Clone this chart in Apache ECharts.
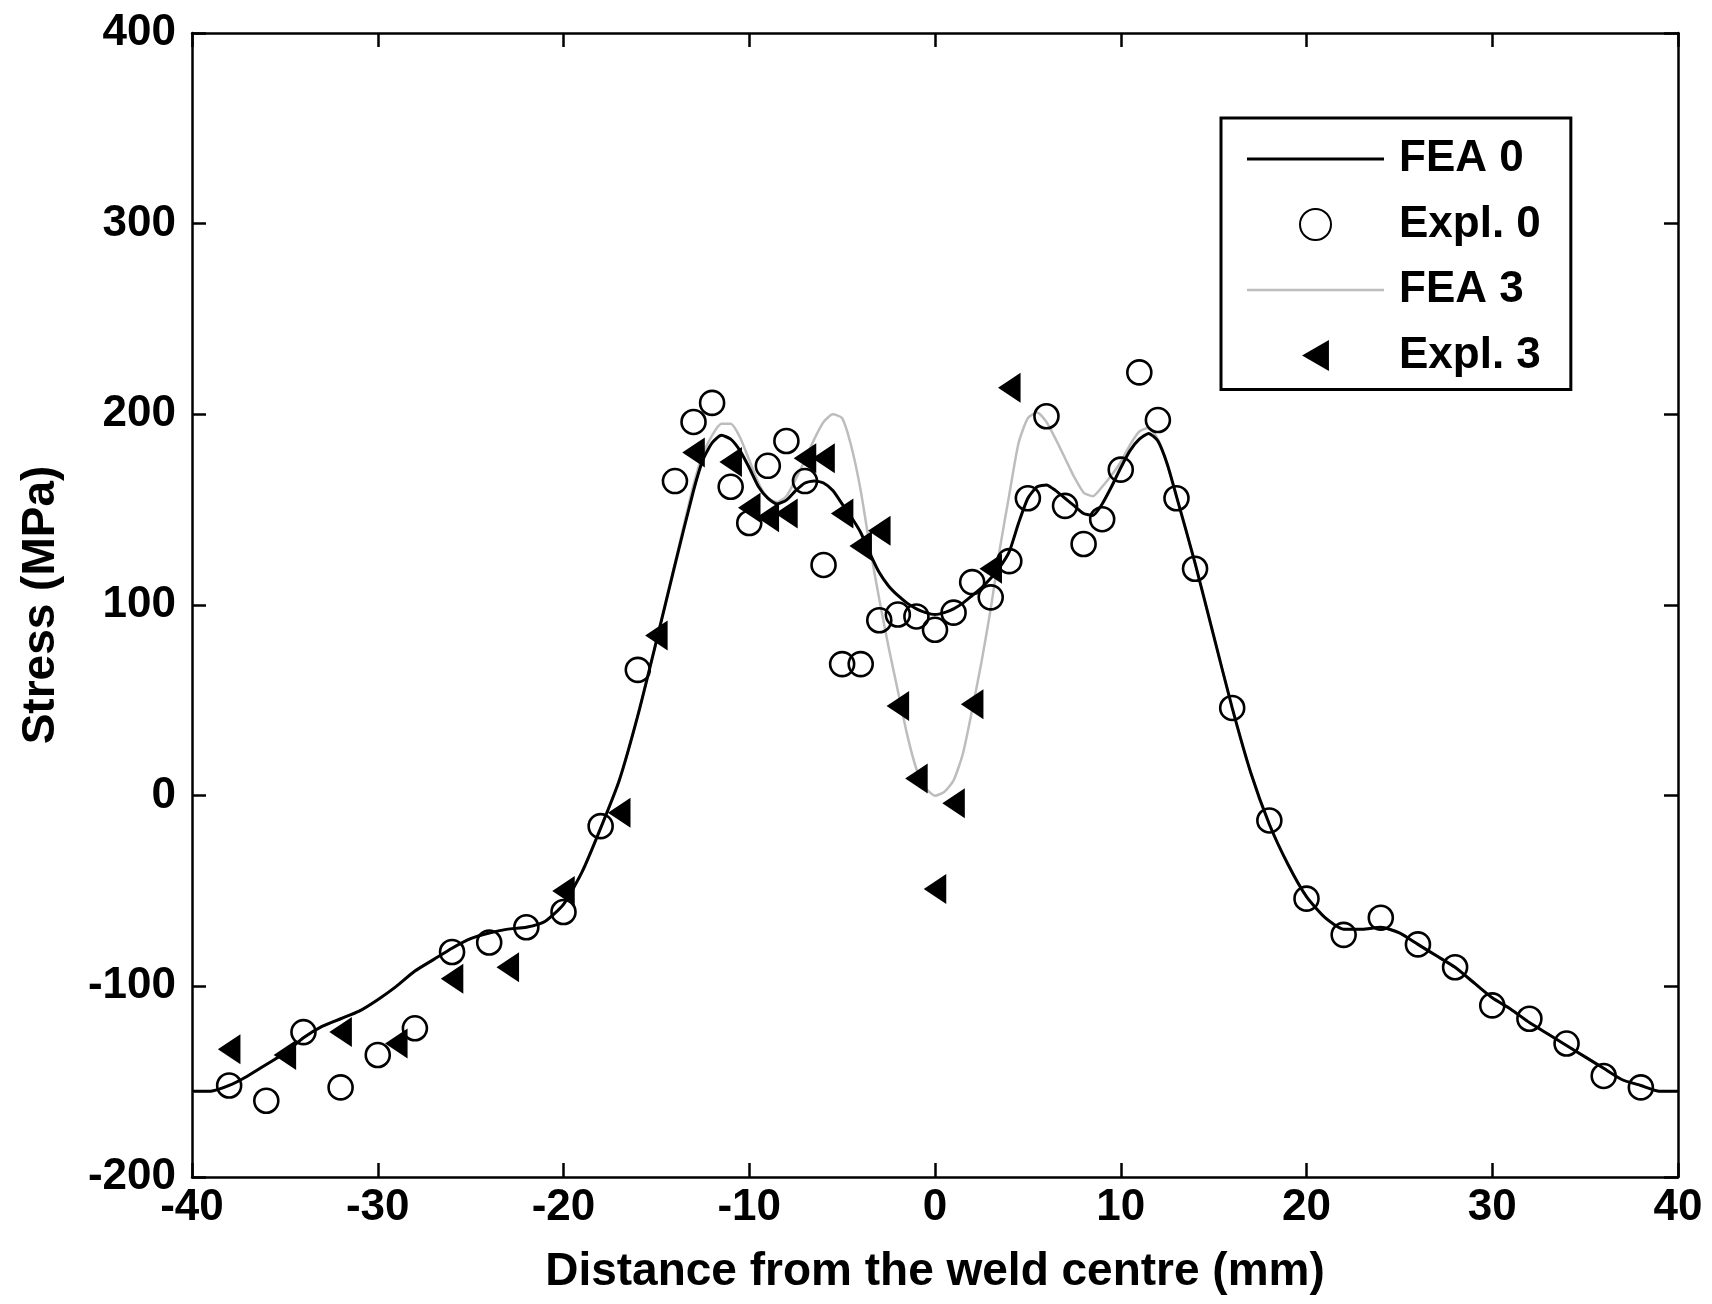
<!DOCTYPE html>
<html>
<head>
<meta charset="utf-8">
<script src="https://cdn.jsdelivr.net/npm/echarts@6/dist/echarts.min.js"></script>
<style>
  html, body { margin: 0; padding: 0; background: #ffffff; }
  #chart { width: 1712px; height: 1304px; }
</style>
</head>
<body>
<div id="chart"></div>
<script>
// ---- data ----
const xTicks = { min: -40, max: 40, interval: 10 };
const yTicks = { min: -200, max: 400, interval: 100 };

const feaX = [-40,-39,-38,-37,-36,-35,-34,-33,-32,-31,-30,-29,-28,-27,-26,-25,-24,-23,-22,-21,-20,-19,-18,-17,-16,-15,-14,-13,
  -12.5,-12,-11.5,-11,-10.5,-10,-9.5,-9,-8.5,-8,-7.5,-7,-6.5,-6,-5.5,-5,-4.5,-4,-3.5,-3,-2.5,-2,-1.5,-1,-0.5,0,
  0.5,1,1.5,2,2.5,3,3.5,4,4.5,5,5.5,6,6.5,7,7.5,8,8.5,9,9.5,10,10.5,11,11.5,12,12.5,
  13,14,15,16,17,18,19,20,21,22,23,24,25,26,27,28,29,30,31,32,33,34,35,36,37,38,39,40];

const fea0Y = [-155,-155,-152,-147,-141,-135,-127,-121,-117,-113,-107,-100,-92,-86,-80,-75,-72,-70,-69,-66,-57,-40,-17,8,42,81,121,160,
  176,185,189,187,181,172,162,156,153,155,160,164,165,164,160,153,146,138,127,117,110,105,101,98,96,95,
  96,98,101,105,109,114,120,128,143,156,162,163,160,156,152,148,147,153,162,172,181,187,190,186,174,
  157,122,84,46,12,-15,-36,-53,-64,-70,-70,-69,-72,-78,-84,-90,-98,-106,-112,-119,-125,-131,-137,-143,-149,-152,-155,-155];

const fea3Y = [-155,-155,-152,-147,-141,-135,-127,-121,-117,-113,-107,-100,-92,-86,-80,-75,-72,-70,-69,-66,-57,-40,-17,8,42,81,122,163,
  179,189,195,195,188,176,164,156,154,157,166,176,187,196,200,198,183,160,130,103,78,55,32,14,4,0,
  2,8,22,45,70,98,130,158,185,198,201,196,187,177,167,159,157,162,168,175,184,191,193,187,174,
  157,122,84,46,12,-15,-36,-53,-64,-70,-70,-69,-72,-78,-84,-90,-98,-106,-112,-119,-125,-131,-137,-143,-149,-152,-155,-155];

const expl0X = [-38,-36,-34,-32,-30,-28,-26,-24,-22,-20,-18,-16,-14,-13,-12,-11,-10,-9,-8,-7,-6,-5,-4,-3,-2,-1,0,1,2,3,4,5,6,7,8,9,10,11,12,13,14,16,18,20,22,24,26,28,30,32,34,36,38];
const expl0Y = [-152,-160,-124,-153,-136,-122,-82,-77,-69,-61,-16,66,165,196,206,162,143,173,186,165,121,69,69,92,95,94,87,96,112,104,123,156,199,152,132,145,171,222,197,156,119,46,-13,-54,-73,-64,-78,-90,-110,-117,-130,-147,-153];

const expl3X = [-38,-35,-32,-29,-26,-23,-20,-17,-15,-13,-11,-10,-9,-8,-7,-6,-5,-4,-3,-2,-1,0,1,2,3,4];
const expl3Y = [-133,-136,-124,-130,-96,-90,-50,-9,84,180,175,151,146,148,177,177,148,131,139,47,9,-49,-4,48,119,214];

const seriesNames = ['FEA 0', 'Expl. 0', 'FEA 3', 'Expl. 3'];
const xTitle = 'Distance from the weld centre (mm)';
const yTitle = 'Stress (MPa)';

// ---- chart ----
const pair = (xs, ys) => xs.map((x, i) => [x, ys[i]]);
const FONT = '"Liberation Sans", Arial, Helvetica, sans-serif';
const TRI_LEFT = 'path://M0,15L26,0L26,30Z';
const LINE_ICON_BLACK = 'path://M0,0H137V3H0Z';
const LINE_ICON_GREY = 'path://M0,0H137V2.5H0Z';

const chart = echarts.init(document.getElementById('chart'), null, { renderer: 'canvas' });

const baseAxis = {
  axisLine: { show: true, onZero: false, lineStyle: { color: '#000', width: 2.5 } },
  axisTick: { show: true, inside: true, length: 14, lineStyle: { color: '#000', width: 2.5 } },
  splitLine: { show: false }
};

chart.setOption({
  animation: false,
  backgroundColor: '#ffffff',
  grid: { left: 192, top: 33, width: 1486, height: 1144, containLabel: false },
  xAxis: [
    Object.assign({}, baseAxis, {
      type: 'value', position: 'bottom', min: xTicks.min, max: xTicks.max, interval: xTicks.interval,
      name: xTitle, nameLocation: 'middle', nameGap: 72,
      nameTextStyle: { fontFamily: FONT, fontWeight: 'bold', fontSize: 46, color: '#000' },
      axisLabel: { show: true, margin: 9, fontFamily: FONT, fontWeight: 'bold', fontSize: 44, color: '#000' }
    }),
    Object.assign({}, baseAxis, {
      type: 'value', position: 'top', min: xTicks.min, max: xTicks.max, interval: xTicks.interval,
      axisLabel: { show: false }
    })
  ],
  yAxis: [
    Object.assign({}, baseAxis, {
      type: 'value', position: 'left', min: yTicks.min, max: yTicks.max, interval: yTicks.interval,
      name: yTitle, nameLocation: 'middle', nameGap: 128, nameRotate: 90,
      nameTextStyle: { fontFamily: FONT, fontWeight: 'bold', fontSize: 46, color: '#000' },
      axisLabel: { show: true, margin: 16, fontFamily: FONT, fontWeight: 'bold', fontSize: 44, color: '#000' }
    }),
    Object.assign({}, baseAxis, {
      type: 'value', position: 'right', min: yTicks.min, max: yTicks.max, interval: yTicks.interval,
      axisLabel: { show: false }
    })
  ],
  legend: {
    data: [
      { name: seriesNames[0], icon: LINE_ICON_BLACK },
      { name: seriesNames[1] },
      { name: seriesNames[2], icon: LINE_ICON_GREY },
      { name: seriesNames[3], icon: TRI_LEFT }
    ],
    orient: 'vertical',
    left: 1221, top: 118,
    padding: [19, 30, 12, 26],
    itemGap: 21.5,
    itemWidth: 137,
    itemHeight: 31,
    symbolKeepAspect: true,
    borderColor: '#000', borderWidth: 3, backgroundColor: '#fff',
    textStyle: { fontFamily: FONT, fontWeight: 'bold', fontSize: 44, color: '#000', padding: [0, 0, 0, 10] }
  },
  series: [
    {
      name: seriesNames[2], type: 'line', data: pair(feaX, fea3Y), symbol: 'none', showSymbol: false,
      smooth: 0.2, lineStyle: { color: '#bdbdbd', width: 2.5 }, itemStyle: { color: '#bdbdbd' }, z: 2
    },
    {
      name: seriesNames[0], type: 'line', data: pair(feaX, fea0Y), symbol: 'none', showSymbol: false,
      smooth: 0.2, lineStyle: { color: '#000', width: 3 }, itemStyle: { color: '#000' }, z: 3
    },
    {
      name: seriesNames[1], type: 'scatter', data: pair(expl0X, expl0Y), symbol: 'circle', symbolSize: 24,
      itemStyle: { color: 'rgba(0,0,0,0)', borderColor: '#000', borderWidth: 2.6, opacity: 1 }, z: 4
    },
    {
      name: seriesNames[3], type: 'scatter', data: pair(expl3X, expl3Y), symbol: TRI_LEFT, symbolSize: [26, 30],
      symbolKeepAspect: true,
      itemStyle: { color: '#000', borderWidth: 0, opacity: 1 }, z: 5
    }
  ]
});
</script>
</body>
</html>
